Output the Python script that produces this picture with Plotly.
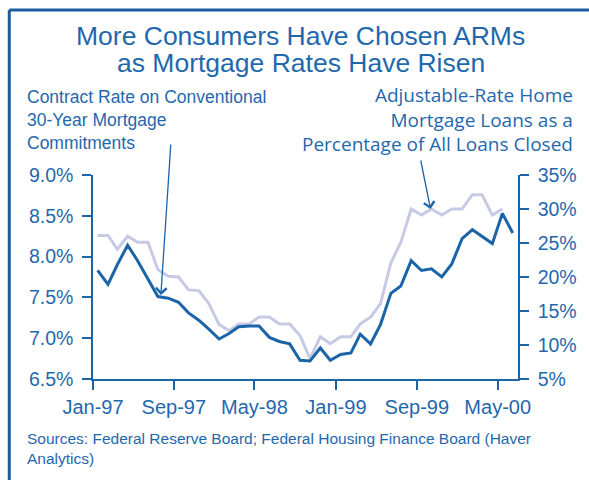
import pandas as pd
import plotly.graph_objects as go

# ---- data (monthly, Jan-1997 .. Jun-2000) ----
start_month = "1997-01-01"
contract_rate = [7.83, 7.66, 7.90, 8.14, 7.95, 7.73, 7.51, 7.49, 7.44, 7.31,
                 7.22, 7.11, 6.99, 7.06, 7.14, 7.15, 7.15, 7.01, 6.96, 6.93,
                 6.73, 6.72, 6.88, 6.73, 6.80, 6.82, 7.05, 6.93, 7.17, 7.55,
                 7.64, 7.95, 7.83, 7.85, 7.75, 7.91, 8.22, 8.33, 8.25, 8.16,
                 8.53, 8.29]
arm_share = [26.1, 26.1, 24.1, 26.0, 25.1, 25.1, 21.1, 20.1, 20.0, 18.1,
             18.0, 16.1, 13.0, 12.1, 13.1, 13.1, 14.1, 14.1, 13.1, 13.1,
             11.4, 8.0, 11.2, 10.2, 11.2, 11.2, 13.1, 14.1, 16.1, 22.1,
             25.1, 30.0, 29.1, 30.0, 29.1, 30.0, 30.0, 32.1, 32.1, 29.1,
             30.0]
left_ticks = [6.5, 7.0, 7.5, 8.0, 8.5, 9.0]
right_ticks = [5, 10, 15, 20, 25, 30, 35]

months = pd.date_range(start_month, periods=len(contract_rate), freq="MS") + pd.Timedelta(days=14)

BLUE = "#1b64a8"
TEXT = "#1f68ad"
LIGHT = "#c7cae5"
FONT = "Liberation Sans, Arial, sans-serif"

W, H = 589, 480
# plot-area edges in page pixels
L, R, T, B = 93, 527, 175, 379


def px_x(p):
    return (p - L) / (R - L)


def px_y(p):
    return (B - p) / (B - T)


fig = go.Figure()
fig.add_trace(go.Scatter(x=months[:len(arm_share)], y=arm_share, mode="lines",
                         line=dict(color=LIGHT, width=3), yaxis="y",
                         name="ARM share", hoverinfo="skip"))
fig.add_trace(go.Scatter(x=months, y=contract_rate, mode="lines",
                         line=dict(color=BLUE, width=3), yaxis="y2",
                         name="Contract rate", hoverinfo="skip"))

axis_common = dict(showline=True, linecolor=BLUE, linewidth=1.5, ticks="outside",
                   ticklen=9, tickcolor=BLUE, tickwidth=1.5, showgrid=False,
                   zeroline=False, ticklabelstandoff=5,
                   tickfont=dict(family=FONT, size=19.5, color=TEXT))

fig.update_layout(
    width=W, height=H,
    margin=dict(l=L, r=W - R, t=T, b=H - B),
    paper_bgcolor="white", plot_bgcolor="white",
    showlegend=False,
    xaxis=dict(type="date", range=["1997-01-01", "2000-07-01"],
               tick0="1997-01-01", dtick="M8", tickformat="%b-%y",
               showline=True, linecolor=BLUE, linewidth=1.5, ticks="outside",
               ticklen=9, tickcolor=BLUE, tickwidth=1.5, showgrid=False,
               zeroline=False, tickfont=dict(family=FONT, size=20, color=TEXT)),
    yaxis=dict(side="right", range=[5, 35], tickvals=right_ticks,
               ticktext=[f"{v}%" for v in right_ticks], **axis_common),
    yaxis2=dict(side="left", overlaying="y", range=[6.5, 9.0], tickvals=left_ticks,
                ticktext=[f"{v:.1f}%" for v in left_ticks], **axis_common),
)

annotations = [
    dict(text="More Consumers Have Chosen ARMs", x=px_x(305), y=px_y(35.5),
         font=dict(size=26.5)),
    dict(text="as Mortgage Rates Have Risen", x=px_x(305), y=px_y(63),
         font=dict(size=26.5)),
    dict(text="Contract Rate on Conventional<br>30-Year Mortgage<br>Commitments",
         x=px_x(24), y=px_y(119.5), xanchor="left", align="left",
         font=dict(size=17.5)),
    dict(text="Adjustable-Rate Home<br>Mortgage Loans as a<br>Percentage of All Loans Closed",
         x=px_x(585), y=px_y(119.5), xanchor="right", align="right",
         font=dict(size=19, family="Open Sans, sans-serif")),
    dict(text="Sources: Federal Reserve Board; Federal Housing Finance Board (Haver<br>Analytics)",
         x=px_x(24), y=px_y(448), xanchor="left", align="left",
         font=dict(size=15.5)),
]
for a in annotations:
    base = dict(xref="paper", yref="paper", showarrow=False, yanchor="middle",
                xanchor="center")
    base.update(a)
    f = dict(family=FONT, color=TEXT)
    f.update(a.get("font", {}))
    base["font"] = f
    fig.add_annotation(**base)

# arrows
fig.add_annotation(x="1997-07-24", y=7.53, xref="x", yref="y2", text="",
                   showarrow=True, ax=10, ay=-152, arrowhead=4, arrowsize=1.6,
                   arrowwidth=1.3, arrowcolor=BLUE, standoff=0)
fig.add_annotation(x="1999-10-12", y=30, xref="x", yref="y", text="",
                   showarrow=True, ax=-10, ay=-50, arrowhead=4, arrowsize=1.6,
                   arrowwidth=1.3, arrowcolor=BLUE, standoff=0)

# frame: left and top edges only
frame = dict(color="#1a5d9e", width=3)
fig.add_shape(type="line", xref="paper", yref="paper",
              x0=px_x(7.5), y0=px_y(10), x1=px_x(600), y1=px_y(10), line=frame)
fig.add_shape(type="line", xref="paper", yref="paper",
              x0=px_x(7.5), y0=px_y(10), x1=px_x(7.5), y1=px_y(490), line=frame)

fig.write_html("out.html", config={"displayModeBar": False},
               post_script="document.body.style.margin='0';document.body.style.overflow='hidden';")
